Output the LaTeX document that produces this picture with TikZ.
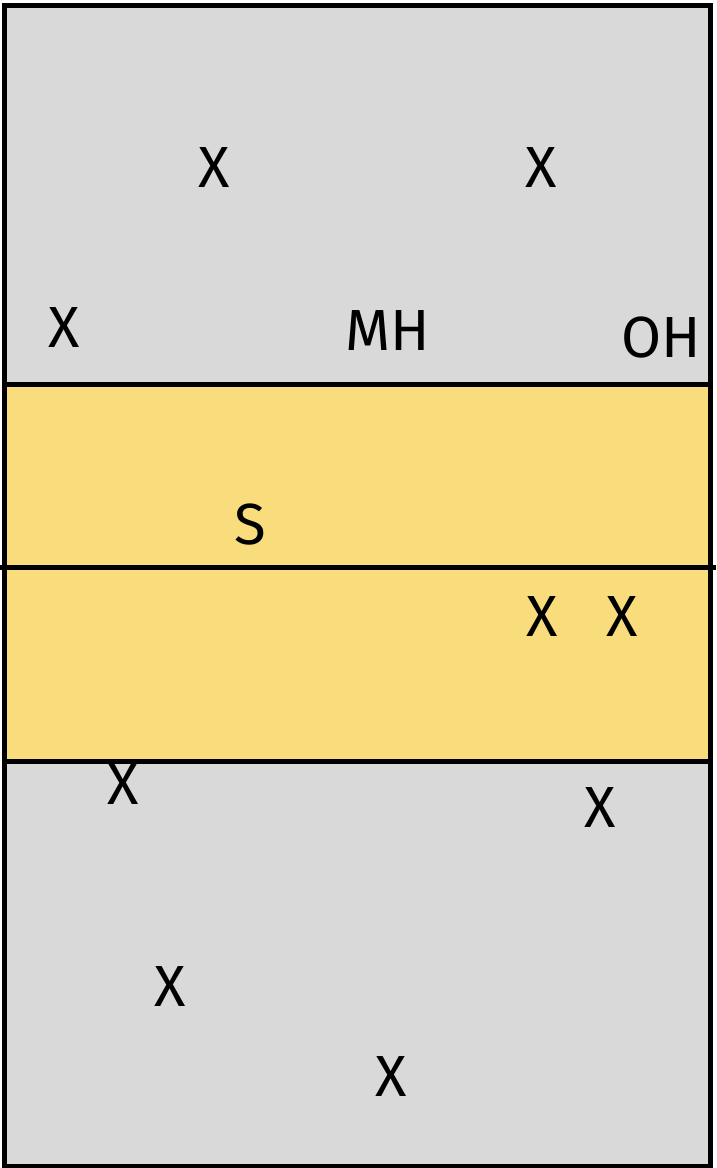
\documentclass[tikz,border=0pt]{standalone}
\usepackage{fontspec}
\setmainfont{Fira Sans}
\definecolor{courtgray}{HTML}{D9D9D9}
\definecolor{courtyellow}{HTML}{F9DC7B}
\tikzset{
  court/.style={line width=5pt, draw=black},
  player/.style={inner sep=0pt, anchor=center, font=\fontsize{58}{58}\selectfont, text=black}
}
\begin{document}
\begin{tikzpicture}[x=1pt,y=-1pt]
\useasboundingbox (0,0) rectangle (716,1168);
\fill[white] (0,0) rectangle (716,1168);
\fill[courtgray] (4.5,5.5) rectangle (710,1166);
\fill[courtyellow] (4.5,384) rectangle (710,761);
\draw[court] (4.5,384) -- (710,384);
\draw[court] (4.5,761) -- (710,761);
\draw[court] (0,567) -- (716,567);
\draw[court] (4.5,5.5) rectangle (710,1166);
\node[player] (x1) at (214,168) {X};
\node[player] (x2) at (541,168) {X};
\node[player] (x3) at (64,328) {X};
\node[player] (mh) at (388,331) {MH};
\node[player] (oh) at (661,338) {OH};
\node[player] (s) at (250,525) {S};
\node[player] (x4) at (542,617) {X};
\node[player] (x5) at (622,617) {X};
\node[player] (x6) at (123,785) {X};
\node[player] (x7) at (600,808) {X};
\node[player] (x8) at (170,987) {X};
\node[player] (x9) at (391,1077) {X};
\end{tikzpicture}
\end{document}
